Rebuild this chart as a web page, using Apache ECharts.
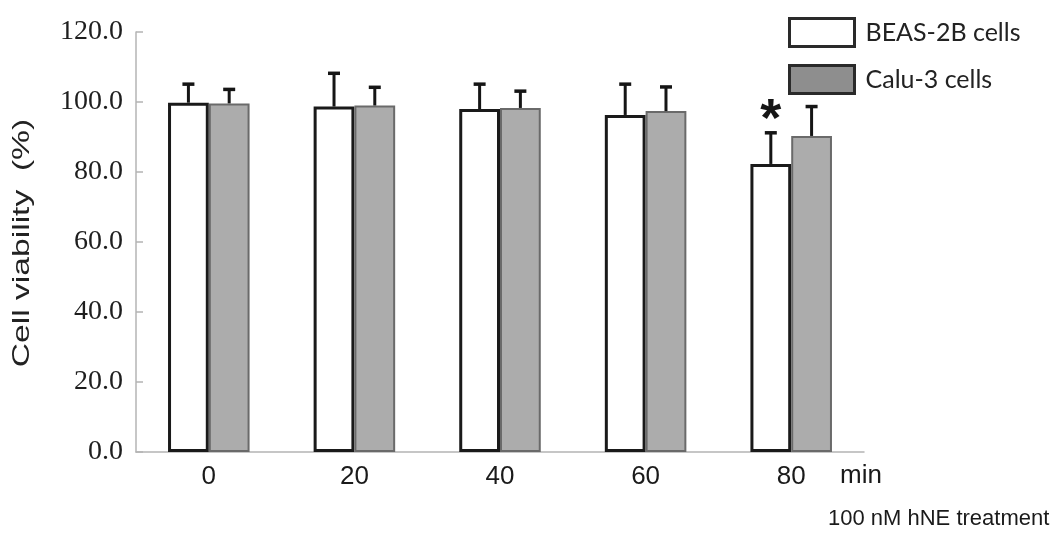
<!DOCTYPE html>
<html>
<head>
<meta charset="utf-8">
<script src="https://cdn.jsdelivr.net/npm/echarts@6/dist/echarts.min.js"></script>
<style>html,body{margin:0;padding:0;background:#fff}#c{width:1063px;height:537px}</style>
</head>
<body>
<div id="c"></div>
<script>
const categories = ['0', '20', '40', '60', '80'];
const beasMean = [99.8, 98.7, 98.0, 96.3, 82.3];
const beasErr  = [5.3, 9.5, 7.1, 8.8, 8.9];
const caluMean = [99.6, 99.0, 98.3, 97.4, 90.3];
const caluErr  = [4.0, 5.2, 4.8, 6.9, 8.4];
const beasSig  = ['', '', '', '', '*'];
const yTicks = { min: 0, max: 120, interval: 20 };

const chart = echarts.init(document.getElementById('c'), null, { renderer: 'canvas' });

function errRender(offsetSign, sigArr) {
  return function (params, api) {
    const xi = api.value(0), m = api.value(1), e = api.value(2);
    const band = api.size([1, 0])[0];
    const bw = band * 0.28;
    const p0 = api.coord([xi, m]);
    const p1 = api.coord([xi, m + e]);
    const cx = p0[0] + offsetSign * bw / 2;
    const children = [
      { type: 'line', shape: { x1: cx, y1: p0[1], x2: cx, y2: p1[1] }, style: { stroke: '#151515', lineWidth: 3 } },
      { type: 'line', shape: { x1: cx - 6, y1: p1[1], x2: cx + 6, y2: p1[1] }, style: { stroke: '#151515', lineWidth: 3.5 } }
    ];
    const sig = sigArr ? sigArr[params.dataIndex] : '';
    if (sig) {
      children.push({ type: 'text', x: cx, y: p1[1] - 12,
        style: { text: sig, font: 'bold 54px "Liberation Sans", Arial', fill: '#151515', align: 'center', verticalAlign: 'middle' } });
    }
    return { type: 'group', children };
  };
}

const option = {
  animation: false,
  backgroundColor: '#ffffff',
  grid: { left: 136, right: 199, top: 32, bottom: 85, containLabel: false },
  legend: {
    orient: 'vertical', left: 783, top: 12, itemWidth: 65, itemHeight: 28, itemGap: 16,
    icon: 'rect',
    textStyle: { fontFamily: 'Lato', fontSize: 25, color: '#222', padding: [0, 0, 0, 6] },
    data: [
      { name: 'BEAS-2B cells', itemStyle: { color: '#ffffff', borderColor: '#2a2a2a', borderWidth: 3 } },
      { name: 'Calu-3 cells', itemStyle: { color: '#8e8e8e', borderColor: '#2a2a2a', borderWidth: 3 } }
    ]
  },
  xAxis: {
    type: 'category', data: categories,
    axisLine: { lineStyle: { color: '#b4b4b4', width: 1.5 } },
    axisTick: { inside: true, length: 6, lineStyle: { color: '#b4b4b4', width: 1.5 } },
    axisLabel: { fontFamily: '"Liberation Sans", Arial', fontSize: 26, color: '#1a1a1a', margin: 12 }
  },
  yAxis: {
    type: 'value', min: yTicks.min, max: yTicks.max, interval: yTicks.interval,
    splitLine: { show: false },
    axisLine: { show: true, lineStyle: { color: '#b4b4b4', width: 1.5 } },
    axisTick: { show: true, inside: true, length: 7, lineStyle: { color: '#b4b4b4', width: 1.5 } },
    axisLabel: { fontFamily: '"Liberation Serif", "Times New Roman"', fontSize: 28, color: '#1e1e1e', margin: 13,
      formatter: v => v.toFixed(1) }
  },
  series: [
    { name: 'BEAS-2B cells', type: 'bar', data: beasMean, barGap: '0%', barCategoryGap: '44%',
      itemStyle: { color: '#ffffff', borderColor: '#1a1a1a', borderWidth: 3 }, z: 2 },
    { name: 'Calu-3 cells', type: 'bar', data: caluMean, barGap: '0%', barCategoryGap: '44%',
      itemStyle: { color: '#acacac', borderColor: '#6a6a6a', borderWidth: 2 }, z: 2 },
    { name: 'beasErr', type: 'custom', renderItem: errRender(-1, beasSig), z: 5,
      data: beasMean.map((m, i) => [i, m, beasErr[i]]), encode: { x: 0, y: 1 } },
    { name: 'caluErr', type: 'custom', renderItem: errRender(1, null), z: 5,
      data: caluMean.map((m, i) => [i, m, caluErr[i]]), encode: { x: 0, y: 1 } }
  ],
  graphic: [
    { type: 'text', x: 22, y: 243, rotation: Math.PI / 2, scaleX: 1.4,
      style: { text: 'Cell viability  (%)', font: '24px "Liberation Sans", Arial', fill: '#222', align: 'center', verticalAlign: 'middle' } },
    { type: 'text', x: 840, y: 476,
      style: { text: 'min', font: '26px "Liberation Sans", Arial', fill: '#1a1a1a', align: 'left', verticalAlign: 'middle' } },
    { type: 'text', x: 828, y: 519,
      style: { text: '100 nM hNE treatment', font: '22px "Liberation Sans", Arial', fill: '#1a1a1a', align: 'left', verticalAlign: 'middle' } }
  ]
};
chart.setOption(option);
</script>
</body>
</html>
